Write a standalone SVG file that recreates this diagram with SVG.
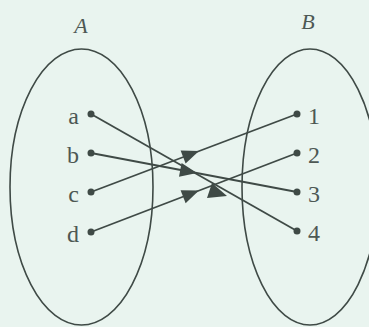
<svg xmlns="http://www.w3.org/2000/svg" width="369" height="327" viewBox="0 0 369 327">
<style>
.set{fill:none;stroke:#3f4a46;stroke-width:1.6}
.ln{stroke:#3f4a46;stroke-width:1.8;fill:none}
.ah{fill:#3f4a46;stroke:none}
.dot{fill:#3f4a46}
.lbl{font-family:"Liberation Serif","Times New Roman",serif;font-size:24px;fill:#4d5854}
.ttl{font-family:"Liberation Serif","Times New Roman",serif;font-size:22px;font-style:italic;fill:#4d5854}
</style>
<rect width="369" height="327" fill="#e9f4ef"/>
<g id="setA">
<ellipse class="set" cx="81.5" cy="187" rx="71.5" ry="138"/>
<text class="ttl" x="81" y="33" text-anchor="middle">A</text>
</g>
<g id="setB">
<ellipse class="set" cx="310" cy="187" rx="68" ry="138"/>
<text class="ttl" x="308" y="29" text-anchor="middle">B</text>
</g>
<g id="node-a"><circle class="dot" cx="91" cy="114" r="3.5"/><text class="lbl" x="79" y="124" text-anchor="end">a</text></g>
<g id="node-b"><circle class="dot" cx="91" cy="153" r="3.5"/><text class="lbl" x="79" y="163" text-anchor="end">b</text></g>
<g id="node-c"><circle class="dot" cx="91" cy="192" r="3.5"/><text class="lbl" x="79" y="202" text-anchor="end">c</text></g>
<g id="node-d"><circle class="dot" cx="91" cy="232" r="3.5"/><text class="lbl" x="79" y="242" text-anchor="end">d</text></g>
<g id="node-1"><circle class="dot" cx="297" cy="114" r="3.5"/><text class="lbl" x="308" y="124">1</text></g>
<g id="node-2"><circle class="dot" cx="297" cy="153" r="3.5"/><text class="lbl" x="308" y="163">2</text></g>
<g id="node-3"><circle class="dot" cx="297" cy="192" r="3.5"/><text class="lbl" x="308" y="202">3</text></g>
<g id="node-4"><circle class="dot" cx="297" cy="231" r="3.5"/><text class="lbl" x="308" y="241">4</text></g>
<g id="connectors">
<line class="ln" x1="91" y1="114" x2="297" y2="231"/>
<line class="ln" x1="91" y1="153" x2="297" y2="192"/>
<line class="ln" x1="91" y1="192" x2="297" y2="114"/>
<line class="ln" x1="91" y1="232" x2="297" y2="153"/>
<polygon class="ah" points="199,151.1 185.6,163.6 180.6,150.6"/>
<polygon class="ah" points="197,173.1 179,176.8 181.6,163"/>
<polygon class="ah" points="199,190.6 185.6,203.2 180.6,190.2"/>
<polygon class="ah" points="212,183 207,198 227,196"/>
</g>
</svg>
